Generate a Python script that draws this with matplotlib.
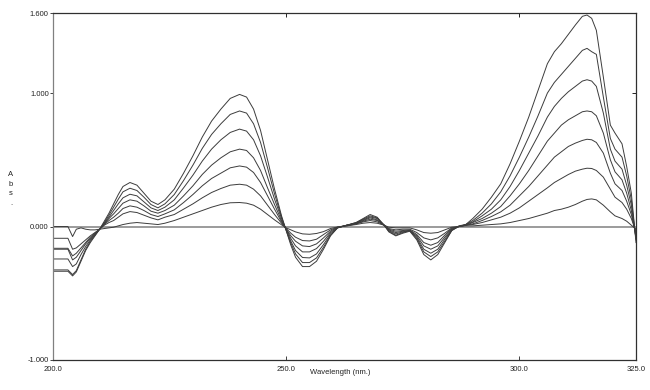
import matplotlib.pyplot as plt

# wavelength nodes (nm)
wl = [200.0, 203.2, 204.2, 205.0, 206.0, 207.0, 208.0, 209.0, 210.0, 211.0, 212.0,
      213.0, 214.0, 215.0, 216.5, 218.0, 219.5, 221.0, 222.5, 224.0,
      226.0, 228.0, 230.0, 232.0, 234.0, 236.0, 238.0, 240.0, 241.5, 243.0, 244.5, 246.0, 247.5, 249.0,
      250.0, 251.0, 252.0, 253.5, 255.0, 256.5, 258.0, 259.5, 261.0,
      263.0, 265.0, 266.5, 268.0, 269.5, 271.0, 272.0, 273.5, 275.0, 276.5, 278.0, 279.5, 281.0,
      282.5, 284.0, 285.5, 287.0, 288.5,
      290.0, 292.0, 294.0, 296.0, 298.0, 300.0, 302.0, 304.0, 306.0, 307.5, 309.0, 310.5, 312.0,
      313.5, 314.5, 315.5, 316.5, 318.0, 319.5, 320.5, 322.0, 323.0, 324.0, 325.0]

abs_1 = [-0.335, -0.335, -0.37, -0.34, -0.26, -0.18, -0.12, -0.07, -0.02, 0.04, 0.10,
         0.17, 0.24, 0.30, 0.33, 0.31, 0.25, 0.19, 0.165, 0.20,
         0.28, 0.40, 0.53, 0.67, 0.79, 0.88, 0.96, 0.99, 0.97, 0.88, 0.72, 0.50, 0.28, 0.08,
         -0.03, -0.14, -0.23, -0.30, -0.30, -0.26, -0.17, -0.07, -0.01,
         0.01, 0.03, 0.06, 0.09, 0.07, 0.01, -0.04, -0.07, -0.05, -0.035, -0.10, -0.21, -0.25,
         -0.21, -0.12, -0.03, 0.005, 0.015,
         0.06, 0.13, 0.22, 0.32, 0.47, 0.64, 0.82, 1.02, 1.22, 1.31, 1.37, 1.44, 1.51,
         1.575, 1.585, 1.56, 1.47, 1.12, 0.76, 0.70, 0.62, 0.45, 0.25, -0.12]

abs_2 = [-0.325, -0.325, -0.36, -0.33, -0.25, -0.17, -0.11, -0.065, -0.02, 0.03, 0.085,
         0.145, 0.205, 0.26, 0.287, 0.27, 0.22, 0.165, 0.14, 0.17,
         0.24, 0.345, 0.46, 0.585, 0.69, 0.77, 0.84, 0.866, 0.85, 0.77, 0.63, 0.44, 0.245, 0.07,
         -0.03, -0.125, -0.205, -0.27, -0.27, -0.235, -0.155, -0.065, -0.01,
         0.01, 0.03, 0.055, 0.08, 0.065, 0.01, -0.035, -0.065, -0.045, -0.03, -0.09, -0.19, -0.225,
         -0.19, -0.11, -0.03, 0.0, 0.015,
         0.045, 0.10, 0.17, 0.26, 0.38, 0.52, 0.67, 0.83, 1.00, 1.08, 1.14, 1.20, 1.26,
         1.32, 1.335, 1.31, 1.29, 0.97, 0.66, 0.58, 0.52, 0.38, 0.20, -0.10]

abs_3 = [-0.243, -0.243, -0.30, -0.28, -0.21, -0.15, -0.10, -0.06, -0.02, 0.025, 0.07,
         0.12, 0.17, 0.215, 0.242, 0.23, 0.185, 0.14, 0.12, 0.145,
         0.20, 0.29, 0.385, 0.49, 0.58, 0.65, 0.705, 0.73, 0.715, 0.65, 0.53, 0.37, 0.205, 0.06,
         -0.025, -0.11, -0.18, -0.232, -0.235, -0.205, -0.135, -0.055, -0.01,
         0.01, 0.025, 0.05, 0.072, 0.06, 0.01, -0.03, -0.055, -0.04, -0.03, -0.08, -0.17, -0.20,
         -0.17, -0.095, -0.025, 0.0, 0.015,
         0.035, 0.08, 0.13, 0.20, 0.30, 0.42, 0.55, 0.68, 0.82, 0.90, 0.96, 1.01, 1.05,
         1.09, 1.10, 1.09, 1.05, 0.85, 0.58, 0.49, 0.43, 0.31, 0.16, -0.09]

abs_4 = [-0.17, -0.17, -0.25, -0.23, -0.18, -0.13, -0.09, -0.055, -0.02, 0.02, 0.06,
         0.095, 0.135, 0.175, 0.20, 0.19, 0.155, 0.115, 0.10, 0.12,
         0.16, 0.23, 0.305, 0.39, 0.46, 0.515, 0.56, 0.58, 0.57, 0.515, 0.42, 0.29, 0.165, 0.045,
         -0.02, -0.09, -0.145, -0.19, -0.19, -0.165, -0.11, -0.045, -0.008,
         0.01, 0.025, 0.045, 0.065, 0.05, 0.01, -0.025, -0.045, -0.035, -0.03, -0.07, -0.145, -0.17,
         -0.145, -0.08, -0.02, 0.0, 0.01,
         0.03, 0.06, 0.10, 0.15, 0.23, 0.32, 0.42, 0.53, 0.64, 0.70, 0.76, 0.80, 0.83,
         0.86, 0.866, 0.86, 0.83, 0.70, 0.50, 0.41, 0.35, 0.25, 0.12, -0.08]

abs_5 = [-0.163, -0.163, -0.22, -0.20, -0.16, -0.12, -0.08, -0.05, -0.02, 0.015, 0.045,
         0.07, 0.10, 0.135, 0.155, 0.145, 0.12, 0.09, 0.075, 0.095,
         0.125, 0.18, 0.24, 0.305, 0.36, 0.40, 0.44, 0.454, 0.445, 0.405, 0.33, 0.23, 0.13, 0.035,
         -0.02, -0.07, -0.11, -0.145, -0.15, -0.13, -0.085, -0.035, -0.005,
         0.01, 0.02, 0.04, 0.055, 0.045, 0.01, -0.02, -0.035, -0.03, -0.025, -0.06, -0.12, -0.14,
         -0.12, -0.065, -0.015, 0.0, 0.01,
         0.02, 0.045, 0.075, 0.11, 0.16, 0.23, 0.30, 0.38, 0.46, 0.52, 0.56, 0.60, 0.625,
         0.645, 0.654, 0.65, 0.63, 0.55, 0.40, 0.32, 0.27, 0.19, 0.09, -0.06]

abs_6 = [-0.088, -0.088, -0.17, -0.16, -0.13, -0.10, -0.07, -0.045, -0.02, 0.01, 0.03,
         0.045, 0.07, 0.095, 0.112, 0.105, 0.085, 0.065, 0.05, 0.07,
         0.09, 0.13, 0.17, 0.215, 0.255, 0.285, 0.31, 0.317, 0.31, 0.28, 0.23, 0.16, 0.09, 0.025,
         -0.015, -0.05, -0.08, -0.105, -0.108, -0.095, -0.06, -0.025, -0.005,
         0.005, 0.02, 0.035, 0.045, 0.035, 0.01, -0.015, -0.025, -0.02, -0.02, -0.045, -0.085, -0.10,
         -0.085, -0.05, -0.01, 0.0, 0.01,
         0.015, 0.03, 0.05, 0.07, 0.10, 0.14, 0.19, 0.24, 0.29, 0.33, 0.36, 0.39, 0.415,
         0.43, 0.437, 0.435, 0.42, 0.37, 0.28, 0.22, 0.18, 0.13, 0.06, -0.04]

abs_7 = [0.0, 0.0, -0.075, -0.02, -0.01, -0.02, -0.025, -0.025, -0.02, -0.015, -0.01,
         -0.005, 0.005, 0.015, 0.025, 0.03, 0.025, 0.02, 0.015, 0.025,
         0.045, 0.07, 0.095, 0.12, 0.145, 0.165, 0.178, 0.18, 0.175, 0.16, 0.13, 0.09, 0.05, 0.013,
         -0.01, -0.025, -0.04, -0.055, -0.058, -0.052, -0.038, -0.015, -0.003,
         0.005, 0.015, 0.025, 0.03, 0.025, 0.01, -0.005, -0.01, -0.01, -0.01, -0.025, -0.045, -0.05,
         -0.045, -0.025, -0.005, 0.0, 0.005,
         0.005, 0.01, 0.015, 0.02, 0.03, 0.045, 0.06, 0.08, 0.10, 0.12, 0.13, 0.145, 0.165,
         0.19, 0.203, 0.207, 0.20, 0.16, 0.11, 0.08, 0.06, 0.04, 0.01, -0.02]

baseline_wl = [200.0, 325.0]
baseline_abs = [0.0, 0.0]

curves = [abs_1, abs_2, abs_3, abs_4, abs_5, abs_6, abs_7]

x_ticks = [200.0, 250.0, 300.0, 325.0]
y_ticks = [-1.0, 0.0, 1.0, 1.6]

plt.rcParams['font.family'] = ['Liberation Sans Narrow', 'Liberation Sans', 'DejaVu Sans']

fig = plt.figure(figsize=(6.5, 3.9), dpi=100)
ax = fig.add_axes([53 / 650, 30 / 390, 583 / 650, 347 / 390])

ax.plot(baseline_wl, baseline_abs, color="#808080", linewidth=1.1)
for c in curves:
    ax.plot(wl, c, color="#3c3c3c", linewidth=0.7)

ax.set_xlim(200, 325)
ax.set_ylim(-1.0, 1.6)

ax.set_xticks(x_ticks)
ax.set_xticklabels([f"{v:.1f}" for v in x_ticks])
ax.set_yticks(y_ticks)
ax.set_yticklabels([f"{v:.3f}" for v in y_ticks])
ax.tick_params(axis='x', direction='in', length=3, width=0.6, pad=4,
               labelsize=5.5, colors="#222222")
ax.tick_params(axis='y', direction='out', length=2, width=0.6, pad=1,
               labelsize=5.5, colors="#222222")

top = ax.secondary_xaxis('top')
top.set_xticks([250.0, 300.0])
top.tick_params(direction='in', length=3, width=0.6, labeltop=False)
right = ax.secondary_yaxis('right')
right.set_yticks([1.0])
right.tick_params(direction='in', length=3, width=0.6, labelright=False)
for sec in (top, right):
    for s in sec.spines.values():
        s.set_visible(False)

ax.spines['left'].set_color("#808080")
for side in ('top', 'right', 'bottom'):
    ax.spines[side].set_color("#303030")
for s in ax.spines.values():
    s.set_linewidth(0.9)

fig.text(340 / 650, 1 - 373 / 390, "Wavelength (nm.)", ha='center', va='center',
         fontsize=5.5, color="#222222")
fig.text(11 / 650, 1 - 189 / 390, "A\nb\ns\n.", ha='center', va='center',
         fontsize=5.5, color="#222222", linespacing=1.5)

fig.savefig("out.png", dpi=100)
